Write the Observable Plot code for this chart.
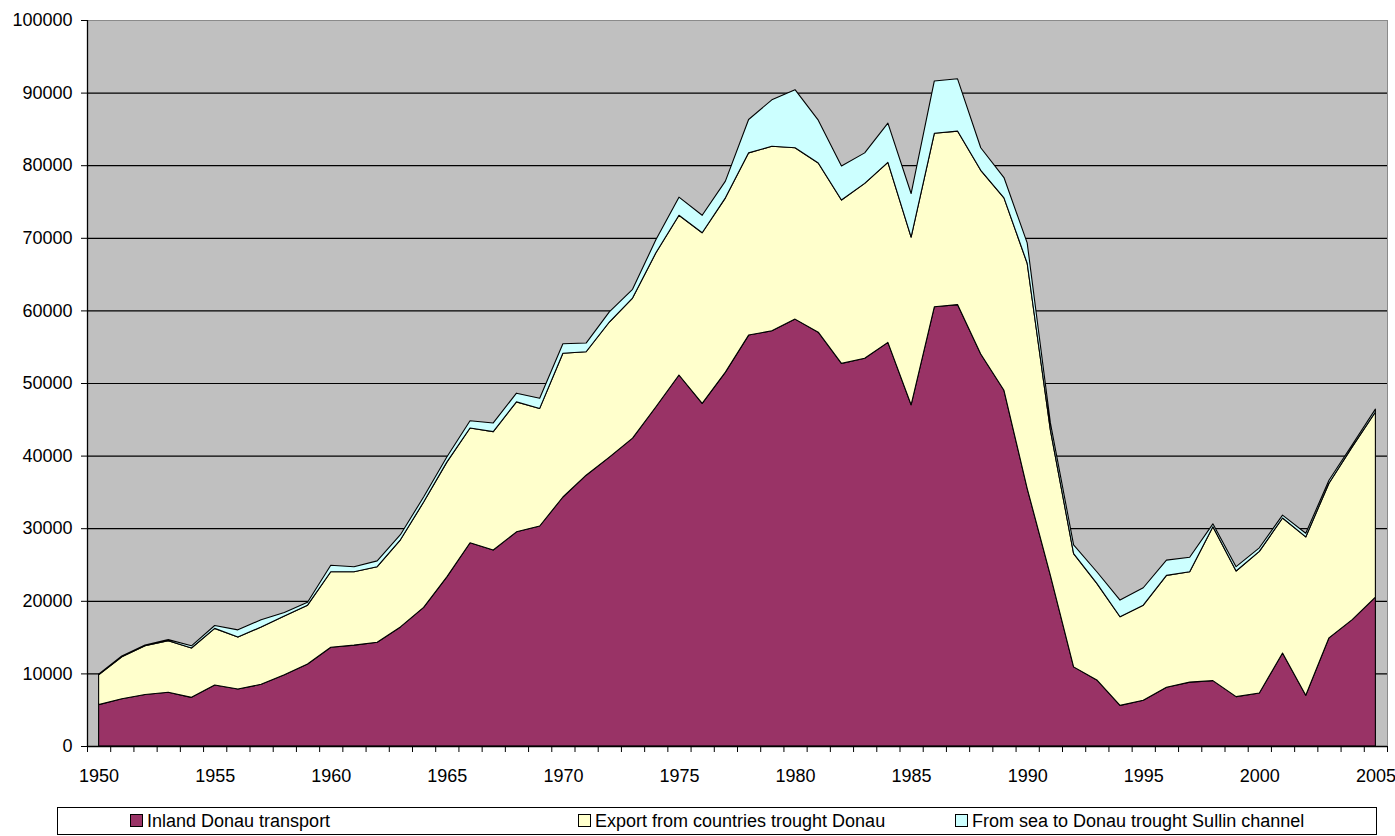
<!DOCTYPE html>
<html>
<head>
<meta charset="utf-8">
<script src="https://cdn.jsdelivr.net/npm/d3@7"></script>
<script src="https://cdn.jsdelivr.net/npm/@observablehq/plot@0.6"></script>
<style>
  body { margin: 0; background: #fff; font-family: "Liberation Sans", Arial, sans-serif; }
  #wrap { position: relative; width: 1395px; height: 836px; overflow: hidden; }
  #legend { position: absolute; left: 57px; top: 807px; width: 1320px; height: 28px; border: 1px solid #000; box-sizing: border-box; font-size: 18px; color: #000; }
  .item { position: absolute; top: 3px; white-space: nowrap; line-height: 20px; }
  .sw { display: inline-block; width: 11px; height: 11px; border: 1px solid #000; margin-right: 4px; vertical-align: 0px; }
</style>
</head>
<body>
<div id="wrap">
  <div id="chart"></div>
  <div id="legend"></div>
</div>
<script>
const years = [1950,1951,1952,1953,1954,1955,1956,1957,1958,1959,
  1960,1961,1962,1963,1964,1965,1966,1967,1968,1969,
  1970,1971,1972,1973,1974,1975,1976,1977,1978,1979,
  1980,1981,1982,1983,1984,1985,1986,1987,1988,1989,
  1990,1991,1992,1993,1994,1995,1996,1997,1998,1999,
  2000,2001,2002,2003,2004,2005];

const inland = [5700,6500,7100,7400,6700,8400,7850,8500,9800,11300,
  13600,13900,14300,16400,19100,23300,28000,27000,29500,30300,
  34300,37300,39800,42400,46700,51100,47200,51500,56600,57200,
  58800,57000,52700,53400,55600,47000,60500,60800,54000,49000,
  35500,23500,10900,9100,5600,6300,8100,8800,9000,6800,
  7300,12800,7000,14900,17400,20500];

const exportDonau = [4100,5800,6700,7100,6800,7800,7150,7900,8100,8100,
  10400,10100,10400,12000,14500,15800,15800,16300,17900,16200,
  19800,17000,18600,19300,21200,22000,23500,24000,25100,25400,
  23600,23300,22500,24100,24800,23100,23900,23900,25300,26500,
  31000,20000,15600,13300,12200,13100,15400,15200,21200,17300,
  19500,18600,21800,21300,23800,25500];

const seaSullin = [100,100,100,150,300,400,1000,1000,500,400,
  900,700,800,700,700,700,1000,1200,1200,1400,
  1300,1200,1400,1200,1800,2500,2400,2300,4600,6400,
  8000,5900,4700,4200,5400,6000,7200,7200,3100,2800,
  2800,1000,1200,1600,2300,2400,2100,2000,400,600,
  500,400,500,400,300,400];

const seriesNames = ["Inland Donau transport", "Export from countries trought Donau", "From sea to Donau trought Sullin channel"];
const seriesColors = ["#993366", "#ffffcc", "#ccffff"];
const yTicks = [0,10000,20000,30000,40000,50000,60000,70000,80000,90000,100000];
const labelYears = [1950,1955,1960,1965,1970,1975,1980,1985,1990,1995,2000,2005];

const seriesValues = [inland, exportDonau, seaSullin];
const data = [];
seriesNames.forEach((name, s) => {
  years.forEach((yr, i) => data.push({year: yr, series: name, value: seriesValues[s][i]}));
});
const tickEdges = years.map(y => y - 0.5).concat([years[years.length - 1] + 0.5]);

const chart = Plot.plot({
  width: 1395,
  height: 800,
  marginLeft: 87,
  marginRight: 8,
  marginTop: 20,
  marginBottom: 54,
  style: { fontFamily: "'Liberation Sans', Arial, sans-serif", fontSize: "18px", color: "#000", background: "transparent" },
  x: { domain: [1949.5, 2005.5], label: null },
  y: { domain: [0, 100000], label: null },
  color: { domain: seriesNames, range: seriesColors },
  marks: [
    Plot.frame({ fill: "#c0c0c0", stroke: "#8a8a8a" }),
    Plot.gridY(yTicks.filter(v => v > 0 && v < 100000), { stroke: "#000", strokeOpacity: 1, strokeWidth: 1.2 }),
    Plot.areaY(data, { x: "year", y: "value", fill: "series", z: "series", stroke: "#000", strokeWidth: 1.1, strokeLinejoin: "round" }),
    Plot.ruleX([1949.5], { stroke: "#000", strokeWidth: 1.3 }),
    Plot.ruleY([0], { stroke: "#000", strokeWidth: 1.3 }),
    Plot.axisY({ ticks: yTicks, tickSize: 6, tickPadding: 9, tickFormat: d => String(d), fontSize: 18, stroke: "#000", label: null }),
    Plot.axisX({ ticks: tickEdges, tickSize: 6, tickFormat: () => "", stroke: "#000", label: null }),
    Plot.axisX({ ticks: labelYears, tickSize: 0, tickPadding: 23, tickFormat: d => String(d), fontSize: 18, label: null })
  ]
});
document.getElementById("chart").appendChild(chart);

const legend = document.getElementById("legend");
const legendX = [72, 520, 897];
seriesNames.forEach((name, i) => {
  const it = document.createElement("div");
  it.className = "item";
  it.style.left = legendX[i] + "px";
  const sw = document.createElement("span");
  sw.className = "sw";
  sw.style.background = seriesColors[i];
  it.appendChild(sw);
  it.appendChild(document.createTextNode(name));
  legend.appendChild(it);
});
</script>
</body>
</html>
